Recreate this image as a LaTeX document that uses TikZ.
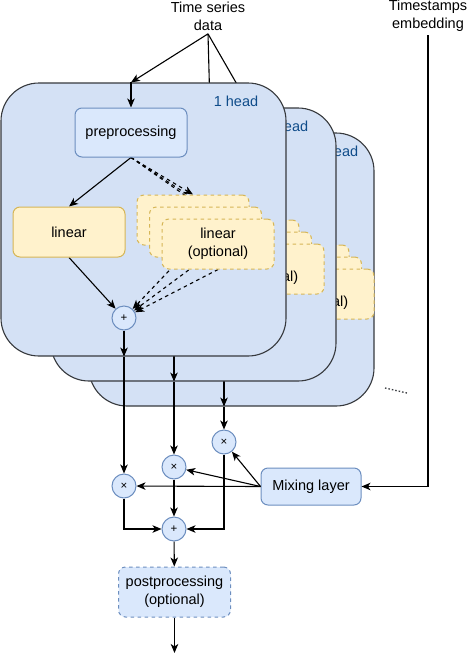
\documentclass[tikz,border=0pt]{standalone}
\usepackage{fontspec}
\setmainfont{Liberation Sans}
\usepackage{tikz}
\usetikzlibrary{arrows.meta}
\definecolor{headfill}{HTML}{D4E1F5}
\definecolor{headline}{HTML}{36393D}
\definecolor{headtext}{HTML}{0F4C8A}
\definecolor{bluefill}{HTML}{DAE8FC}
\definecolor{blueline}{HTML}{6C8EBF}
\definecolor{yellowfill}{HTML}{FFF2CC}
\definecolor{yellowline}{HTML}{D6B656}
\pgfdeclarelayer{box3}\pgfdeclarelayer{edge3}\pgfdeclarelayer{node3}
\pgfdeclarelayer{box2}\pgfdeclarelayer{edge2}\pgfdeclarelayer{node2}
\pgfdeclarelayer{box1}\pgfdeclarelayer{edge1}\pgfdeclarelayer{node1}
\pgfsetlayers{box3,edge3,node3,box2,edge2,node2,box1,edge1,node1,main}

\begin{document}
\begin{tikzpicture}[x=1pt,y=-1pt,
    every node/.style={font=\fontsize{14.5}{18}\selectfont,align=center},
    link/.style={draw=black,line width=1.1pt,-{Stealth[length=9pt,width=7.5pt,inset=2.5pt]}},
    dashes/.style={dash pattern=on 3.5pt off 3.5pt},
    headbox/.style={draw=headline,fill=headfill,line width=1.1pt,rounded corners=38pt,minimum width=285pt,minimum height=273pt,inner sep=0pt},
    headlabel/.style={text=headtext},
    bluebox/.style={draw=blueline,fill=bluefill,line width=1pt,rounded corners=7pt,minimum width=112pt,minimum height=49pt,inner sep=0pt},
    yellowbox/.style={draw=yellowline,fill=yellowfill,line width=1pt,rounded corners=7pt,minimum width=112pt,minimum height=50pt,inner sep=0pt},
    optbox/.style={yellowbox,dashes},
    opnode/.style={circle,draw=blueline,fill=bluefill,line width=1pt,minimum size=24pt,inner sep=0pt,font=\fontsize{11.5}{12}\selectfont}]
  \useasboundingbox (0,0) rectangle (468,654);
  \foreach \k/\dx/\dy/\bx in {3/100/50/88,2/50/25/50,1/0/0/0}{
    \begin{scope}[shift={(\dx,\dy)}]
      \begin{pgfonlayer}{box\k}
        \node[headbox] (head\k) at (143.5+\bx-\dx,219.5) {};
        \node[headlabel] (label\k) at (236,101) {\k{} head};
      \end{pgfonlayer}
      \begin{pgfonlayer}{node\k}
        \node[bluebox] (pre\k) at (131,132.5) {preprocessing};
        \node[yellowbox] (lin\k) at (69,232) {linear};
        \node[optbox] (opta\k) at (193,220) {};
        \node[optbox] (optb\k) at (205.5,232) {};
        \node[optbox] (optc\k) at (218,244) {linear\\(optional)};
        \node[opnode] (plus\k) at (124,318) {+};
      \end{pgfonlayer}
      \begin{pgfonlayer}{edge\k}
        \draw[link] (pre\k |- head\k.north) -- (pre\k);
        \draw[link] (pre\k.south) -- (lin\k.north);
        \foreach \o in {opta,optb,optc}{
          \draw[link,dashes] (pre\k.south) -- (\o\k.north);
          \draw[link,dashes] (\o\k.south) -- (plus\k);
        }
        \draw[link] (lin\k.south) -- (plus\k);
        \draw[link] (plus\k) -- (plus\k |- head\k.south);
      \end{pgfonlayer}
    \end{scope}
  }
  \node (data) at (208,16) {Time series\\data};
  \node (stamp) at (428,16) {Timestamps\\embedding};
  \coordinate (in2) at (210,108);
  \coordinate (in3) at (265,133);
  \begin{pgfonlayer}{edge2}
    \draw[link] (data.south) -- (in2);
    \draw[link] (data.south) -- (in3);
  \end{pgfonlayer}
  \draw[link] (data.south) -- (pre1 |- head1.north);
  \node[opnode] (times1) at (124,486) {×};
  \node[opnode] (times2) at (174,467) {×};
  \node[opnode] (times3) at (224,442) {×};
  \node[bluebox,minimum width=100pt,minimum height=37pt] (mix) at (311,486.5) {Mixing layer};
  \node[opnode] (sum) at (174,529) {+};
  \node[bluebox,dashes,minimum height=50pt] (post) at (174.5,592) {postprocessing\\(optional)};
  \coordinate (out) at (174.5,653);
  \foreach \k in {1,2,3}{
    \draw[link] (plus\k |- head\k.south) -- (times\k);
    \draw[link] (mix.west) -- (times\k);
  }
  \draw[link] (stamp.south) |- (mix.east);
  \draw[link] (times1) |- (sum);
  \draw[link] (times2) -- (sum);
  \draw[link] (times3) |- (sum);
  \draw[link] (sum) -- (post);
  \draw[link] (post) -- (out);
  \draw[headline,line width=1.3pt,dash pattern=on 1.5pt off 2pt] (385,388) -- (407,393);
\end{tikzpicture}
\end{document}
